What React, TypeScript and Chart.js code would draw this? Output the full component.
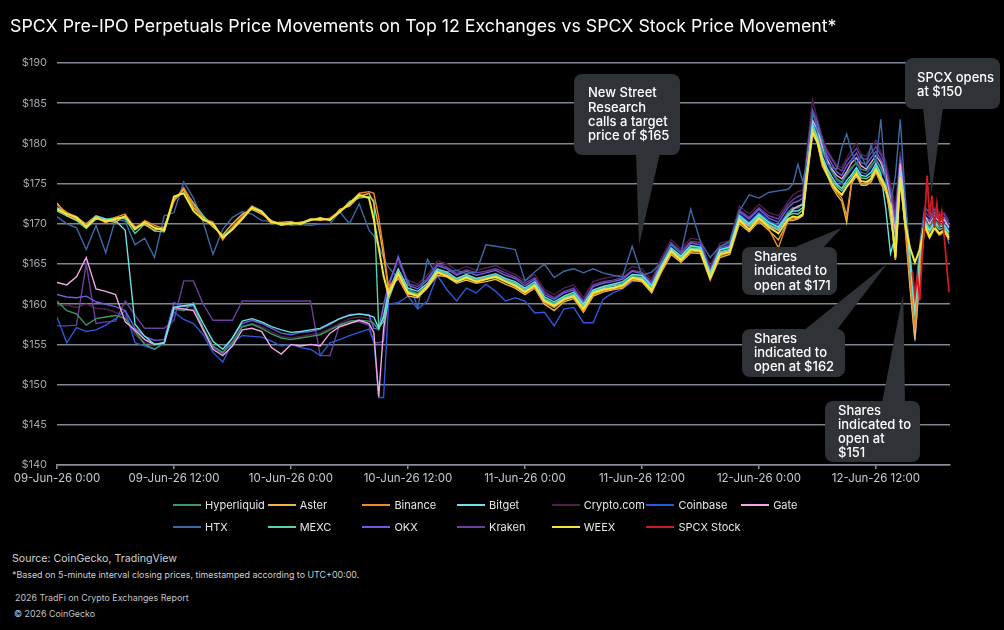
import React, { useEffect, useRef } from "react";
import { Chart, registerables } from "chart.js";

Chart.register(...registerables);

// Hours since 09-Jun-26 0:00 (UTC)
const times = [
  0, 1, 2, 3, 4, 5, 6, 7, 8, 9, 10, 11, 12, 13, 14, 15, 16, 17, 18, 19, 20, 21, 22, 23, 24, 25, 26, 27, 28, 29, 30, 31, 32,
  32.5, 33, 33.5,
  34, 35, 36, 37, 38, 39, 40, 41, 42, 43, 44, 45, 46, 47, 48, 49, 50, 51, 52, 53, 54, 55, 56, 57, 58, 59, 60, 61, 62, 63, 64, 65, 66, 67, 68, 69, 70, 71, 72, 73, 74, 75,
  75.5, 76, 76.5, 77, 77.5, 78, 78.5, 79, 79.5, 80, 80.5, 81, 81.5, 82, 82.5, 83, 83.5, 84, 84.5, 85, 85.5, 86, 86.5, 87, 87.5, 88, 88.5, 89, 89.5, 90, 90.5, 91, 91.5,
];

const hyperliquid = [
  160.4, 159.2, 158.8, 157.4, 158.2, 158.4, 158.6, 158.2, 156.6, 155.0, 154.4, 155.2, 159.4, 159.2, 160.2, 156.9, 154.8, 154.0, 155.2, 157.2, 157.5, 157.0, 156.3, 155.8, 155.6, 155.8, 156.0, 156.2, 156.8, 157.4, 157.9, 158.0, 157.9,
  157.6, 156.8, 158.6,
  161.2, 164.0, 161.8, 161.3, 162.4, 164.2, 163.8, 163.1, 163.6, 163.1, 163.4, 163.6, 163.1, 162.6, 161.8, 162.6, 160.7, 160.1, 160.9, 161.3, 159.8, 161.7, 162.1, 162.4, 162.6, 163.5, 163.5, 162.2, 164.7, 166.9, 165.9, 167.2, 167.0, 163.8, 166.7, 167.0, 170.8, 170.0, 171.2, 170.1, 169.5, 171.4,
  172.0, 172.0, 172.4, 178.0, 183.0, 181.6, 179.2, 177.8, 176.6, 175.6, 175.2, 176.2, 177.0, 177.6, 176.8, 176.6, 177.2, 178.0, 177.0, 175.8, 172.6, 168.5, 177.0, 171.5, 164.0, 158.0, 165.0, 170.6, 169.6, 170.5, 169.8, 170.0, 169.0,
];

const aster = [
  172.6, 171.0, 170.5, 169.8, 170.6, 170.4, 170.2, 171.0, 169.6, 169.9, 169.2, 169.6, 173.0, 174.3, 172.0, 170.8, 169.6, 168.6, 170.0, 171.2, 171.8, 171.2, 170.4, 169.9, 170.0, 170.2, 170.4, 170.8, 170.4, 171.8, 172.2, 173.4, 173.8,
  172.6, 169.5, 166.0,
  161.8, 163.2, 161.0, 160.8, 162.0, 163.6, 163.4, 162.6, 163.0, 162.6, 162.8, 163.1, 162.5, 162.0, 161.2, 162.0, 160.0, 159.2, 160.3, 160.7, 159.0, 161.0, 161.5, 161.8, 162.0, 163.0, 162.8, 161.4, 164.0, 166.2, 165.2, 166.4, 166.3, 163.0, 165.8, 166.2, 170.0, 169.0, 170.3, 169.2, 168.0, 170.4,
  170.4, 170.6, 171.0, 176.8, 181.2, 180.0, 177.2, 176.0, 174.6, 173.6, 172.8, 170.2, 175.0, 176.0, 174.8, 174.8, 175.2, 176.4, 175.0, 174.0, 171.5, 165.5, 175.4, 169.5, 162.0, 155.6, 163.5, 169.5, 168.2, 169.4, 168.6, 169.0, 168.0,
];

const binance = [
  172.4, 171.4, 170.9, 169.9, 170.9, 170.1, 170.8, 171.2, 169.4, 170.4, 169.8, 169.4, 172.8, 174.5, 172.4, 170.6, 170.2, 168.0, 169.6, 170.9, 172.2, 171.4, 170.0, 170.2, 170.3, 169.9, 170.6, 170.4, 170.7, 171.6, 172.6, 173.8, 174.0,
  173.8, 170.8, 166.8,
  162.2, 163.4, 161.2, 161.2, 162.4, 163.8, 163.6, 162.9, 163.2, 163.0, 163.2, 163.3, 162.9, 162.2, 161.4, 162.1, 160.2, 159.6, 160.5, 160.9, 159.2, 161.2, 161.6, 161.9, 162.1, 163.1, 162.9, 161.6, 164.2, 166.4, 165.4, 166.6, 166.5, 163.2, 166.0, 166.4, 170.3, 169.2, 170.5, 169.4, 167.0, 170.5,
  170.6, 170.7, 171.1, 176.6, 181.3, 180.1, 177.5, 176.1, 174.8, 173.9, 173.2, 171.0, 175.2, 176.2, 175.0, 175.0, 175.4, 176.6, 175.3, 174.2, 171.8, 165.6, 175.6, 169.8, 163.0, 157.0, 164.5, 169.8, 168.3, 169.5, 168.7, 169.1, 168.2,
];

const bitget = [
  172.0, 171.4, 170.6, 170.0, 171.0, 170.6, 170.4, 169.2, 157.5, 156.0, 155.0, 155.2, 159.6, 159.8, 160.0, 157.6, 155.4, 154.4, 155.8, 157.9, 158.2, 157.8, 157.2, 156.8, 156.5, 156.6, 156.8, 157.0, 157.6, 158.2, 158.6, 158.8, 158.6,
  158.4, 157.0, 158.4,
  161.6, 164.4, 162.0, 161.6, 162.6, 164.4, 164.0, 163.2, 163.7, 163.2, 163.5, 163.8, 163.2, 162.8, 162.0, 162.8, 160.9, 160.3, 161.0, 161.5, 160.0, 161.8, 162.2, 162.5, 162.8, 163.7, 163.6, 162.3, 164.8, 167.0, 166.0, 167.3, 167.1, 163.9, 166.8, 167.1, 171.0, 170.0, 171.2, 170.2, 169.6, 171.2,
  171.6, 171.6, 172.0, 177.4, 182.4, 180.8, 178.4, 176.9, 175.8, 174.9, 174.4, 175.4, 176.1, 177.0, 176.0, 175.9, 176.4, 177.5, 176.3, 172.0, 166.3, 168.5, 176.5, 171.0, 165.0, 158.5, 165.5, 170.4, 169.2, 170.2, 169.6, 169.8, 168.9,
];

const cryptoCom = [
  159.8, 159.9, 159.6, 160.0, 159.5, 159.4, 159.0, 158.6, 156.2, 155.2, 155.0, 155.2, 159.4, 159.2, 159.4, 156.8, 154.6, 153.8, 155.4, 157.2, 157.6, 157.2, 156.6, 156.0, 155.8, 156.0, 156.2, 156.4, 157.0, 157.6, 158.2, 158.4, 158.2,
  157.5, 157.0, 159.4,
  162.6, 165.2, 163.0, 162.5, 163.6, 165.4, 165.0, 164.2, 164.7, 164.2, 164.5, 164.8, 164.2, 163.7, 162.9, 163.7, 161.8, 161.2, 162.0, 162.4, 160.8, 162.8, 163.2, 163.4, 163.7, 164.7, 164.4, 163.1, 165.8, 168.0, 166.9, 168.2, 168.0, 164.7, 167.6, 167.9, 172.2, 171.2, 172.4, 171.4, 171.0, 172.8,
  173.6, 174.0, 174.2, 180.0, 185.4, 183.0, 180.8, 179.2, 178.2, 177.2, 177.0, 178.2, 179.2, 180.0, 178.6, 178.4, 179.4, 180.4, 179.0, 177.8, 175.0, 172.0, 179.0, 173.5, 163.5, 157.0, 165.0, 172.0, 171.2, 172.0, 171.4, 171.4, 170.4,
];

const coinbase = [
  158.4, 155.2, 157.1, 156.6, 156.8, 157.4, 158.2, 159.2, 155.2, 154.8, 154.4, 155.2, 159.0, 158.1, 157.6, 156.2, 154.0, 152.8, 155.2, 156.1, 156.0, 155.9, 155.4, 154.8, 155.0, 154.6, 154.4, 153.6, 155.2, 155.6, 156.1, 156.5, 156.9,
  155.5, 148.4, 148.4,
  160.0, 160.2, 161.0, 159.4, 160.4, 163.6, 161.8, 160.4, 162.0, 161.4, 162.5, 161.6, 160.4, 160.8, 160.4, 158.9, 159.0, 157.3, 159.4, 159.6, 157.7, 157.7, 160.6, 161.4, 161.9, 162.8, 163.0, 162.0, 164.4, 166.6, 165.8, 167.0, 166.8, 164.0, 166.8, 167.2, 171.2, 170.2, 171.4, 170.4, 169.8, 171.5,
  172.0, 172.0, 172.6, 178.0, 182.6, 181.4, 179.0, 177.6, 176.4, 175.4, 175.0, 176.0, 176.8, 177.6, 176.4, 176.2, 177.0, 178.0, 176.8, 175.6, 172.6, 168.6, 176.8, 171.2, 164.0, 156.2, 163.0, 170.2, 169.4, 170.6, 169.8, 170.0, 169.2,
];

const gate = [
  162.7, 162.4, 163.4, 165.8, 161.9, 161.6, 161.2, 157.8, 156.8, 155.6, 155.0, 155.2, 159.6, 159.4, 159.2, 156.8, 154.4, 153.6, 154.8, 156.8, 157.0, 156.6, 154.6, 153.8, 155.0, 154.8, 155.0, 154.8, 156.4, 157.2, 157.6, 158.0, 157.6,
  156.5, 148.5, 157.0,
  160.6, 163.8, 161.5, 161.0, 162.2, 164.0, 163.6, 162.9, 163.4, 162.9, 163.2, 163.5, 162.9, 162.4, 161.6, 162.4, 160.5, 159.9, 160.7, 161.1, 159.5, 161.5, 161.9, 162.1, 162.4, 163.3, 163.2, 161.9, 164.5, 166.7, 165.7, 166.9, 166.8, 163.5, 166.4, 166.7, 170.6, 169.7, 170.9, 169.8, 169.2, 171.0,
  171.8, 172.2, 172.4, 178.2, 182.8, 181.8, 179.6, 178.0, 176.8, 176.0, 175.6, 176.5, 177.6, 178.2, 177.2, 176.8, 177.6, 178.5, 177.6, 176.0, 173.0, 169.0, 177.5, 172.0, 166.0, 159.5, 166.5, 171.0, 170.0, 171.0, 170.2, 170.5, 169.5,
];

const htx = [
  170.9, 170.0, 169.5, 166.8, 169.8, 166.4, 170.6, 170.3, 167.4, 168.2, 165.8, 171.0, 171.4, 175.2, 173.2, 170.2, 166.2, 169.3, 170.8, 171.5, 171.2, 170.4, 170.3, 170.1, 169.8, 169.9, 169.8, 170.0, 170.0, 171.5, 170.0, 172.5, 169.2,
  168.5, 167.2, 165.8,
  164.6, 163.2, 163.0, 159.6, 165.6, 163.4, 164.0, 164.2, 163.8, 164.0, 167.4, 167.2, 167.0, 166.8, 162.9, 164.0, 165.0, 163.3, 164.1, 164.4, 163.9, 164.4, 163.9, 163.6, 163.4, 167.2, 163.6, 164.0, 165.2, 167.6, 166.3, 171.8, 167.8, 165.8, 167.2, 167.8, 171.6, 173.6, 173.2, 173.9, 174.1, 174.3,
  175.0, 177.4, 175.2, 178.0, 184.0, 181.8, 180.6, 177.5, 177.0, 176.8, 179.5, 181.2, 179.0, 177.4, 178.5, 177.2, 179.8, 177.5, 183.0, 175.5, 172.5, 176.0, 183.0, 173.5, 166.0, 160.5, 167.5, 172.0, 171.5, 170.8, 171.2, 170.0, 167.5,
];

const mexc = [
  171.6, 171.0, 170.4, 169.4, 170.6, 170.5, 170.8, 170.6, 168.8, 170.0, 169.1, 169.0, 172.9, 174.2, 172.6, 171.0, 169.8, 168.4, 169.5, 170.8, 172.2, 171.6, 170.3, 169.8, 170.0, 170.1, 170.6, 170.5, 170.6, 171.4, 172.8, 173.2, 173.4,
  172.9, 157.2, 157.8,
  160.8, 164.0, 161.6, 161.2, 162.4, 164.2, 163.8, 163.0, 163.5, 163.0, 163.3, 163.6, 163.0, 162.6, 161.8, 162.5, 160.6, 160.0, 160.8, 161.2, 159.7, 161.6, 162.0, 162.3, 162.5, 163.4, 163.3, 162.0, 164.6, 166.8, 165.8, 167.0, 166.9, 163.6, 166.5, 166.8, 170.8, 169.8, 171.0, 169.9, 169.3, 171.0,
  171.3, 171.2, 171.7, 177.0, 182.0, 180.5, 178.1, 176.6, 175.4, 174.6, 174.1, 175.0, 175.8, 176.7, 175.7, 175.6, 176.0, 177.2, 176.0, 174.8, 170.5, 167.0, 176.2, 170.6, 166.0, 160.0, 166.0, 170.2, 169.0, 170.0, 169.3, 169.5, 168.6,
];

const okx = [
  161.2, 160.9, 160.8, 161.0, 160.3, 160.0, 159.7, 159.2, 157.0, 156.0, 155.5, 155.6, 160.2, 159.7, 159.8, 157.0, 154.7, 153.9, 155.8, 157.6, 158.0, 157.6, 157.0, 156.4, 156.2, 156.5, 156.6, 156.9, 157.5, 158.2, 158.7, 158.8, 158.7,
  157.0, 156.9, 159.9,
  162.4, 165.8, 162.4, 161.9, 163.0, 164.8, 164.4, 163.6, 164.1, 163.6, 163.9, 164.2, 163.6, 163.2, 162.3, 163.1, 161.2, 160.6, 161.4, 161.8, 160.2, 162.2, 162.6, 162.8, 163.1, 164.1, 163.8, 162.5, 165.2, 167.4, 166.3, 167.6, 167.4, 164.1, 167.0, 167.3, 171.5, 170.6, 171.8, 170.7, 170.2, 172.0,
  172.6, 172.8, 173.2, 178.8, 183.6, 182.4, 180.0, 178.5, 177.4, 176.4, 176.0, 177.2, 178.0, 178.8, 177.6, 177.4, 178.2, 179.0, 178.0, 176.6, 173.6, 170.0, 178.0, 172.5, 163.0, 155.4, 164.0, 171.0, 170.4, 171.4, 170.6, 170.8, 169.6,
];

const kraken = [
  157.3, 157.3, 157.4, 165.0, 157.6, 157.8, 157.9, 160.4, 158.6, 157.0, 157.0, 157.0, 158.0, 162.9, 162.9, 160.0, 158.0, 158.0, 158.0, 160.4, 160.4, 160.4, 160.4, 160.4, 160.4, 160.4, 160.4, 153.6, 153.6, 157.5, 157.8, 157.8, 157.4,
  155.2, 155.2, 155.4,
  162.0, 166.0, 162.6, 162.2, 163.2, 165.0, 164.6, 163.8, 164.3, 163.9, 164.1, 164.4, 163.9, 163.4, 162.6, 163.3, 161.5, 160.8, 161.6, 162.0, 160.4, 162.4, 162.8, 163.0, 163.3, 164.2, 164.0, 162.8, 165.4, 167.6, 166.6, 167.8, 167.7, 164.4, 167.2, 167.6, 171.7, 170.8, 172.0, 171.0, 170.6, 172.4,
  173.0, 173.4, 173.6, 179.2, 184.2, 182.8, 180.4, 179.0, 178.0, 177.0, 176.6, 177.8, 178.6, 179.4, 178.2, 178.0, 178.8, 179.6, 178.6, 177.2, 174.2, 171.0, 178.4, 173.0, 162.5, 156.0, 164.5, 171.5, 170.8, 171.8, 171.0, 171.2, 170.0,
];

const weex = [
  171.8, 171.2, 170.8, 169.6, 170.8, 170.3, 170.6, 170.9, 169.3, 170.2, 169.5, 169.2, 173.4, 173.8, 171.6, 170.5, 170.0, 168.3, 169.3, 170.6, 172.0, 171.5, 170.2, 170.0, 170.1, 170.0, 170.5, 170.6, 170.5, 171.5, 172.5, 173.6, 173.2,
  170.5, 167.0, 163.5,
  161.2, 163.8, 161.4, 161.0, 162.2, 164.0, 163.5, 162.8, 163.3, 162.8, 163.1, 163.4, 162.8, 162.3, 161.5, 162.3, 160.4, 159.8, 160.6, 161.0, 159.4, 161.4, 161.8, 162.0, 162.3, 163.3, 163.0, 161.7, 164.4, 166.6, 165.5, 166.8, 166.6, 163.3, 166.2, 166.5, 170.5, 169.3, 170.7, 169.6, 168.8, 170.6,
  170.9, 170.8, 171.2, 176.5, 181.5, 180.2, 177.8, 176.2, 175.0, 174.2, 173.6, 174.6, 175.4, 176.3, 175.3, 175.2, 175.6, 176.8, 175.6, 174.5, 172.2, 165.8, 175.8, 170.0, 167.0, 165.2, 166.8, 170.0, 168.4, 169.6, 168.8, 169.2, 168.3,
];

// SPCX stock trades only after the listing
const stockTimes = [87.75, 88, 88.25, 88.5, 88.75, 89, 89.25, 89.5, 89.75, 90, 90.25, 90.5, 90.75, 91, 91.25, 91.5];
const stockValues = [164.0, 161.0, 163.5, 160.5, 166.0, 170.5, 176.0, 171.0, 173.5, 169.5, 172.5, 170.0, 171.5, 168.5, 165.0, 161.5];

const xTickHours = [0, 12, 24, 36, 48, 60, 72, 84];
const xTickLabels = [
  "09-Jun-26 0:00", "09-Jun-26 12:00", "10-Jun-26 0:00", "10-Jun-26 12:00",
  "11-Jun-26 0:00", "11-Jun-26 12:00", "12-Jun-26 0:00", "12-Jun-26 12:00",
];

const seriesNames = ["Hyperliquid", "Aster", "Binance", "Bitget", "Crypto.com", "Coinbase", "Gate", "HTX", "MEXC", "OKX", "Kraken", "WEEX", "SPCX Stock"];
const seriesValues = [hyperliquid, aster, binance, bitget, cryptoCom, coinbase, gate, htx, mexc, okx, kraken, weex, stockValues];

const seriesStyle = [
  { color: "#3c9a5f", order: 8, width: 1.4 },
  { color: "#e9b949", order: 3, width: 1.4 },
  { color: "#ee8a2b", order: 2, width: 1.4 },
  { color: "#6be3e3", order: 4, width: 1.4 },
  { color: "#4f1f4b", order: 12, width: 1.4 },
  { color: "#2d58db", order: 10, width: 1.4 },
  { color: "#f1a7e3", order: 7, width: 1.4 },
  { color: "#3b6aa5", order: 6, width: 1.4 },
  { color: "#58d3a3", order: 5, width: 1.4 },
  { color: "#6b5fe0", order: 9, width: 1.4 },
  { color: "#6c3f9e", order: 11, width: 1.4 },
  { color: "#f2e63a", order: 1, width: 2 },
  { color: "#cc1b22", order: 0, width: 1.8 },
];

const callouts = [
  { lines: ["New Street", "Research", "calls a target", "price of $165"], tip: [59.7, 167.3], box: [574, 74, 106, 81], textX: 588, lineYs: [93, 108, 122, 136], base: [[636, 153], [660, 153]] },
  { lines: ["Shares", "indicated to", "open at $171"], tip: [80.5, 169.5], box: [742, 247, 95, 48], textX: 754, lineYs: [257, 271, 286], base: [[790, 249], [822, 249]] },
  { lines: ["Shares", "indicated to", "open at $162"], tip: [85.2, 165.1], box: [742, 329, 103, 48], textX: 754, lineYs: [339, 353, 367], base: [[803, 331], [836, 331]] },
  { lines: ["Shares", "indicated to", "open at", "$151"], tip: [86.8, 161.4], box: [825, 401, 95, 61], textX: 838, lineYs: [411, 425, 439, 453], base: [[882, 403], [905, 403]] },
  { lines: ["SPCX opens", "at $150"], tip: [89.7, 173.8], box: [905, 58, 95, 51], textX: 917, lineYs: [78, 92], base: [[923, 107], [943, 107]] },
];

const calloutPlugin = {
  id: "callouts",
  afterDraw(chart: any) {
    const ctx = chart.ctx as CanvasRenderingContext2D;
    const xs = chart.scales.x;
    const ys = chart.scales.y;
    ctx.save();
    for (const c of callouts) {
      const tx = xs.getPixelForValue(c.tip[0]);
      const ty = ys.getPixelForValue(c.tip[1]);
      ctx.fillStyle = "#2f3337";
      ctx.beginPath();
      ctx.moveTo(c.base[0][0], c.base[0][1]);
      ctx.lineTo(tx, ty);
      ctx.lineTo(c.base[1][0], c.base[1][1]);
      ctx.closePath();
      ctx.fill();
      ctx.beginPath();
      (ctx as any).roundRect(c.box[0], c.box[1], c.box[2], c.box[3], 8);
      ctx.fill();
      ctx.fillStyle = "#ffffff";
      ctx.font = "500 13px Inter";
      ctx.textBaseline = "middle";
      ctx.textAlign = "left";
      c.lines.forEach((l, i) => ctx.fillText(l, c.textX, c.lineYs[i]));
    }
    ctx.restore();
  },
};

export default function App() {
  const ref = useRef<HTMLCanvasElement | null>(null);

  useEffect(() => {
    document.body.style.margin = "0";
    document.body.style.background = "#000";
    const canvas = ref.current;
    if (!canvas) return;
    const datasets = seriesNames.map((name, i) => {
      const vals = seriesValues[i];
      const xs = name === "SPCX Stock" ? stockTimes : times;
      const st = seriesStyle[i];
      return {
        label: name,
        data: xs.map((t, j) => ({ x: t, y: vals[j] })),
        borderColor: st.color,
        backgroundColor: st.color,
        borderWidth: st.width,
        pointRadius: 0,
        tension: 0,
        fill: false,
        order: st.order,
      };
    });
    const chart = new Chart(canvas, {
      type: "line",
      data: { datasets },
      options: {
        animation: false,
        responsive: false,
        devicePixelRatio: 1,
        layout: { padding: { left: 8, right: 54, top: 63, bottom: 0 } },
        plugins: {
          legend: { display: false },
          tooltip: { enabled: false },
          title: { display: false },
        },
        scales: {
          x: {
            type: "linear",
            min: 0,
            max: 91.6,
            afterBuildTicks: (s: any) => {
              s.ticks = xTickHours.map((v) => ({ value: v }));
            },
            afterFit: (s: any) => {
              s.height = 35;
            },
            ticks: {
              autoSkip: false,
              maxRotation: 0,
              padding: 3,
              color: "#c6c9ce",
              font: { family: "Inter", size: 11.5 },
              callback: (v: any) => {
                const k = xTickHours.indexOf(Number(v));
                return k >= 0 ? xTickLabels[k] : "";
              },
            },
            grid: { display: true, drawOnChartArea: false, drawTicks: true, tickLength: 4, color: "#8a9099", lineWidth: 1.5 },
            border: { display: true, color: "#8a9099", width: 1.5 },
          },
          y: {
            min: 140,
            max: 190,
            afterFit: (s: any) => {
              s.width = 49;
            },
            ticks: {
              stepSize: 5,
              padding: 10,
              color: "#a3a8ae",
              font: { family: "Inter", size: 11 },
              callback: (v: any) => "$" + v,
            },
            grid: { color: "#7f8792", lineWidth: 1.5, drawTicks: false },
            border: { display: false },
          },
        },
      },
      plugins: [calloutPlugin],
    } as any);
    return () => chart.destroy();
  }, []);

  const legendRow = (start: number) =>
    seriesNames.slice(start, start + 7).map((name, k) => (
      <div key={name} style={{ display: "flex", alignItems: "center", height: 22 }}>
        <div style={{ width: 28, height: 2, background: seriesStyle[start + k].color, marginRight: 4 }} />
        <span style={{ fontSize: 11, color: "#e6e6e6", whiteSpace: "nowrap" }}>{name}</span>
      </div>
    ));

  const footStyle = (top: number, left: number, color: string, size: number): React.CSSProperties => ({
    position: "absolute", left, top, fontSize: size, color, lineHeight: "14px", whiteSpace: "nowrap",
  });

  return (
    <div style={{ position: "absolute", left: 0, top: 0, width: 1004, height: 630, background: "#000", overflow: "hidden", fontFamily: "Inter, 'Noto Sans', sans-serif" }}>
      <canvas ref={ref} width={1004} height={500} style={{ position: "absolute", left: 0, top: 0, width: 1004, height: 500 }} />
      <div style={{ position: "absolute", left: 10, top: 15, fontSize: 17.75, lineHeight: "22px", color: "#fff", whiteSpace: "nowrap" }}>
        SPCX Pre-IPO Perpetuals Price Movements on Top 12 Exchanges vs SPCX Stock Price Movement*
      </div>
      <div style={{ position: "absolute", left: 173, top: 494, display: "grid", gridTemplateColumns: "repeat(7, 94.7px)" }}>
        {legendRow(0)}
        {legendRow(7)}
      </div>
      <div style={footStyle(552, 12, "#cfcfcf", 10.6)}>Source: CoinGecko, TradingView</div>
      <div style={footStyle(568, 12, "#cfcfcf", 8.9)}>*Based on 5-minute interval closing prices, timestamped according to UTC+00:00.</div>
      <div style={footStyle(591, 15, "#c4c4c4", 8.9)}>2026 TradFi on Crypto Exchanges Report</div>
      <div style={footStyle(607, 14, "#c4c4c4", 8.9)}>© 2026 CoinGecko</div>
    </div>
  );
}
